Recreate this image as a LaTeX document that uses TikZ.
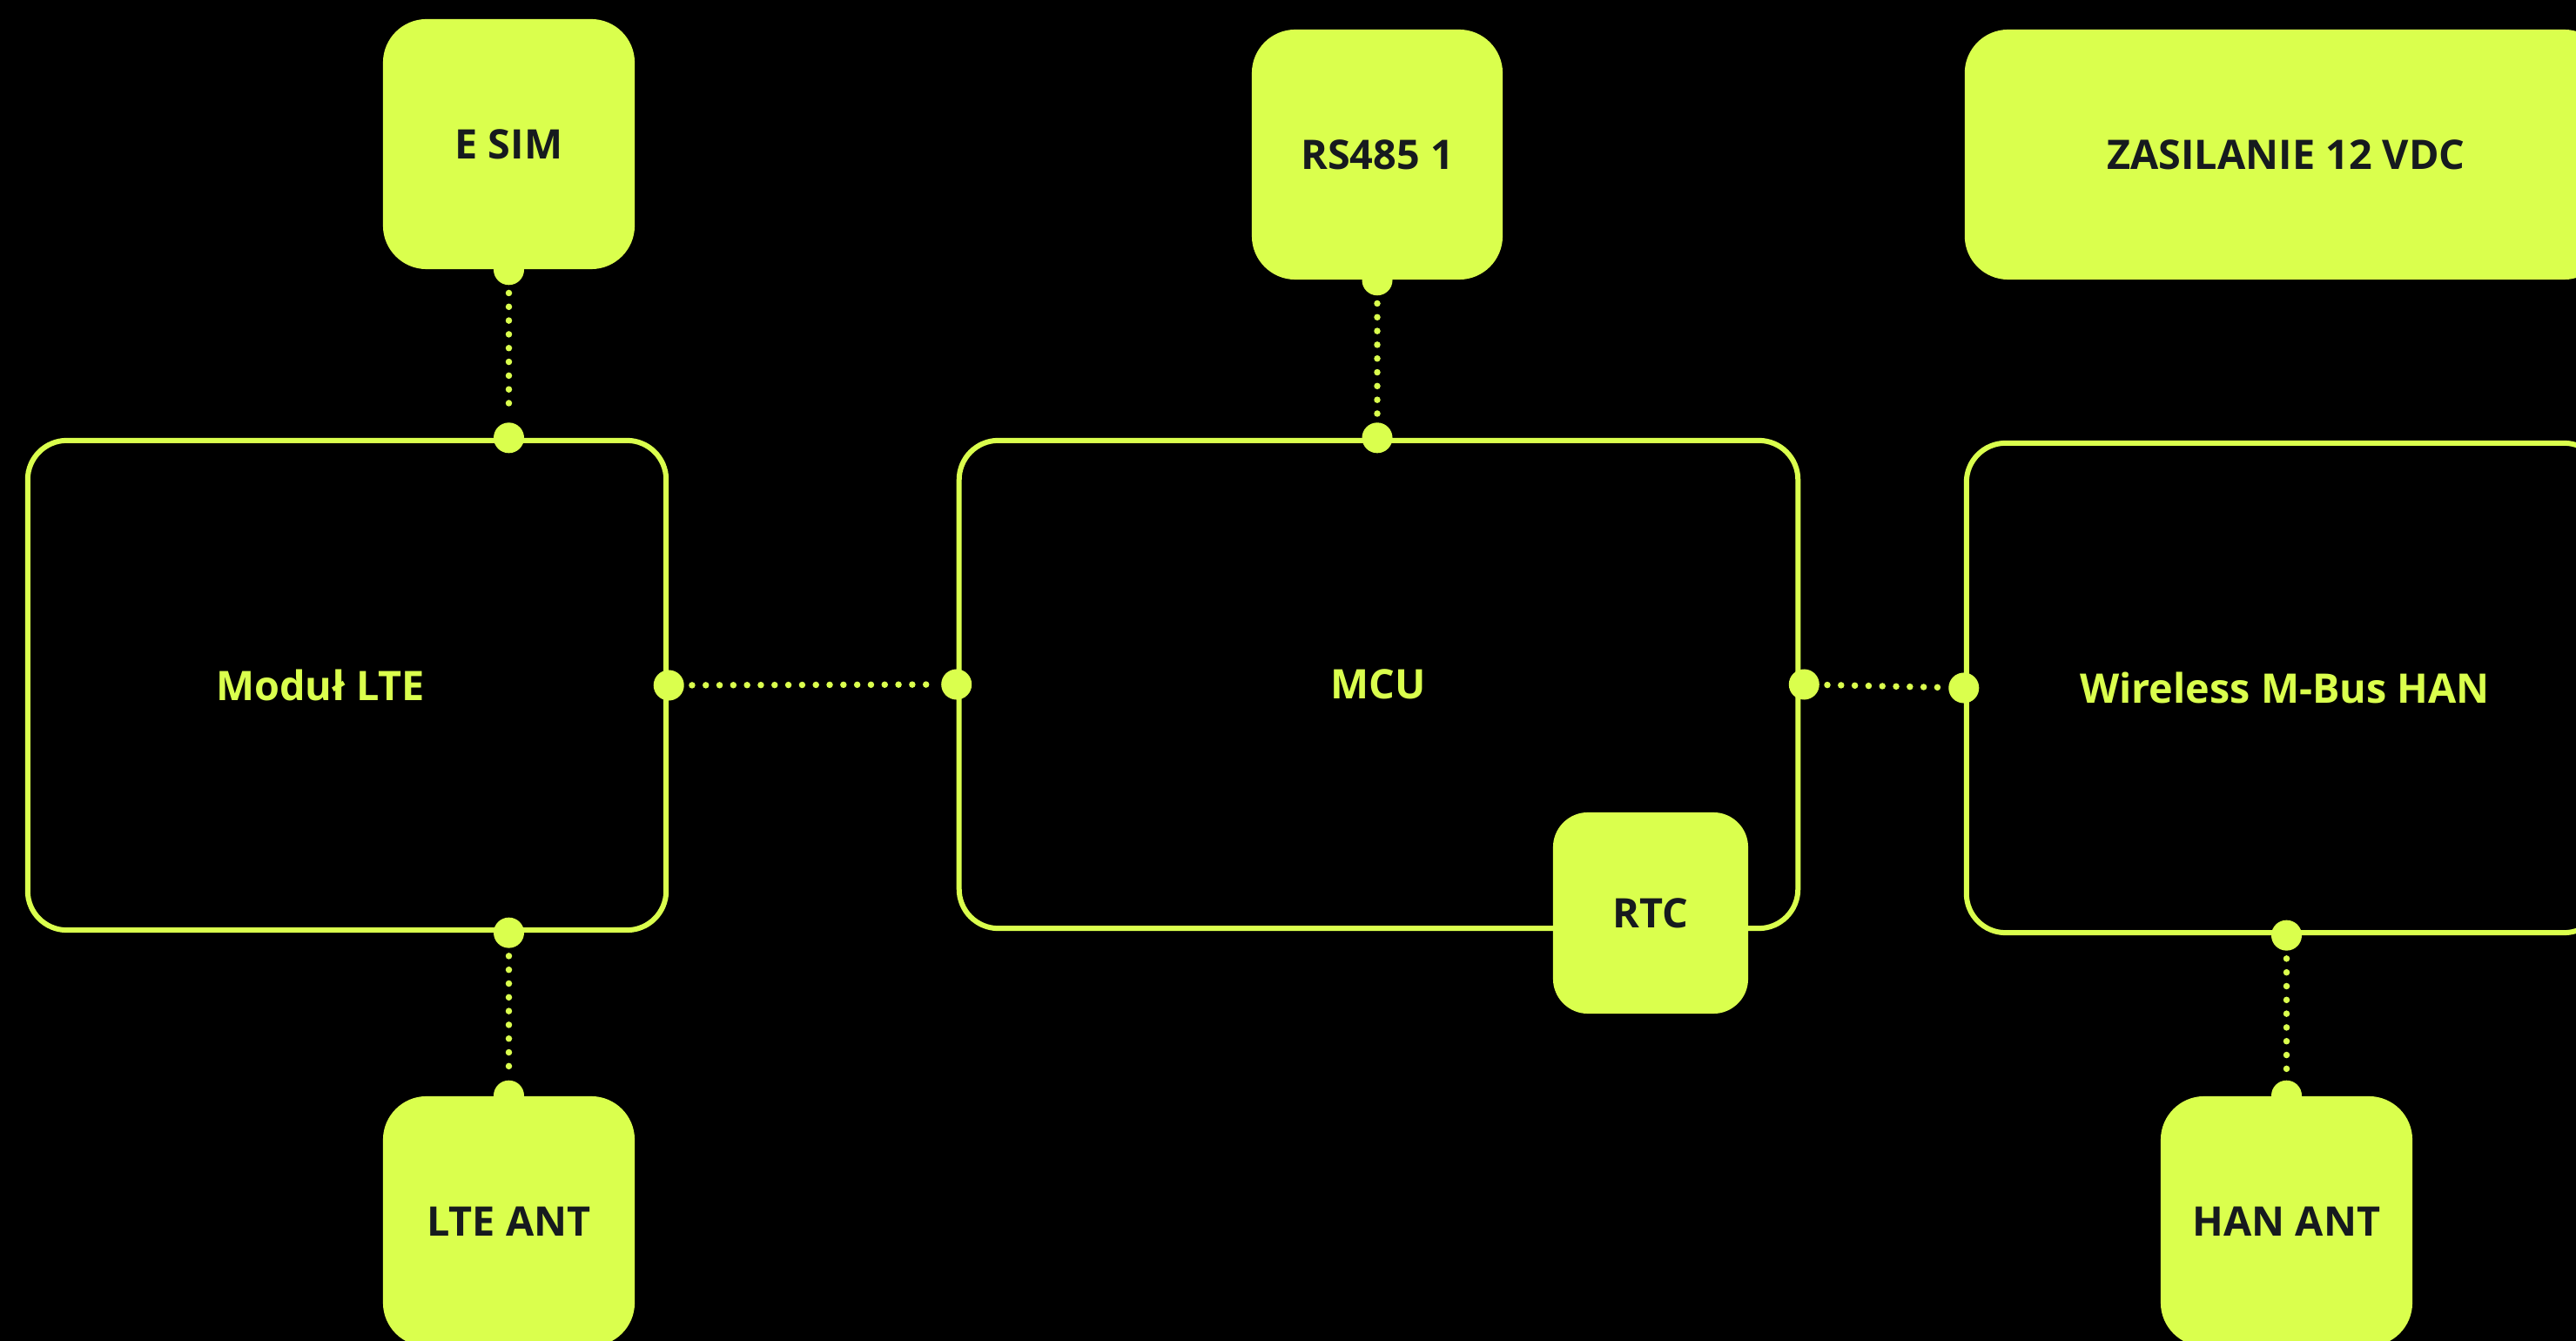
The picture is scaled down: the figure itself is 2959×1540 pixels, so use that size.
\documentclass[tikz,border=0pt]{standalone}
\usepackage{fontspec}
\setmainfont{Open Sans}
\definecolor{accent}{RGB}{218,255,77}
\definecolor{ink}{RGB}{22,26,30}
\tikzset{
  fbox/.style={rounded corners=0.5cm, fill=accent, text=ink, font=\fontsize{13.3}{16}\selectfont\bfseries, inner sep=0pt},
  obox/.style={rounded corners=0.45cm, draw=accent, line width=0.06cm, inner sep=0pt, text=accent, font=\fontsize{13.3}{16}\selectfont\bfseries},
  lbl/.style={text=accent, font=\fontsize{13.3}{16}\selectfont\bfseries, inner sep=0pt},
  dotn/.style={circle, fill=accent, inner sep=0pt, minimum size=0.35cm},
  dotline/.style={draw=accent, line width=0.075cm, line cap=round, dash pattern=on 0pt off 0.158cm, shorten <=0.085cm, shorten >=0.085cm}
}
\begin{document}
\begin{tikzpicture}[x=0.01cm, y=-0.01cm]
\fill[black] (0,0) rectangle (2959,1540);
\useasboundingbox (0,0) rectangle (2959,1540);
\clip (0,0) rectangle (2959,1540);
% outline boxes
\node[obox, minimum width=7.33cm, minimum height=5.62cm] (mod) at (398.5,787) {};
\node[lbl] (modl) at (368,787) {Moduł LTE};
\node[obox, minimum width=9.63cm, minimum height=5.6cm] (mcu) at (1583.5,786) {MCU};
\node[obox, minimum width=7.31cm, minimum height=5.62cm] (wl) at (2624.5,790) {Wireless M-Bus HAN};
% filled boxes
\node[fbox, minimum width=2.89cm, minimum height=2.87cm] (esim) at (584.5,165.5) {E SIM};
\node[fbox, minimum width=2.88cm, minimum height=2.87cm] (rs) at (1582,177.5) {RS485 1};
\node[fbox, minimum width=7.38cm, minimum height=2.87cm] (zas) at (2626,177.5) {ZASILANIE 12 VDC};
\node[fbox, rounded corners=0.4cm, minimum width=2.24cm, minimum height=2.31cm] (rtc) at (1896,1048.5) {RTC};
\node[fbox, minimum width=2.89cm, minimum height=2.87cm] (lte) at (584.5,1402.5) {LTE ANT};
\node[fbox, minimum width=2.89cm, minimum height=2.87cm] (han) at (2626.5,1402.5) {HAN ANT};
% dots
\node[dotn] (desim) at (esim.south) {};
\node[dotn] (dmodn) at (esim.south |- mod.north) {};
\node[dotn] (dmods) at (lte.north |- mod.south) {};
\node[dotn] (dlte) at (lte.north) {};
\node[dotn] (dmode) at (mod.east) {};
\node[dotn] (dmcuw) at (mcu.west) {};
\node[dotn] (drs) at (rs.south) {};
\node[dotn] (dmcun) at (rs.south |- mcu.north) {};
\node[dotn] (dmcue) at ([xshift=0.04cm]mcu.east) {};
\node[dotn] (dwlw) at (wl.west) {};
\node[dotn] (dwls) at (han.north |- wl.south) {};
\node[dotn] (dhan) at (han.north) {};
% connectors
\draw[dotline] (desim) -- (dmodn);
\draw[dotline] (dmods) -- (dlte);
\draw[dotline] (dmode) -- (dmcuw);
\draw[dotline] (drs) -- (dmcun);
\draw[dotline] (dmcue) -- (dwlw);
\draw[dotline] (dwls) -- (dhan);
\end{tikzpicture}
\end{document}
